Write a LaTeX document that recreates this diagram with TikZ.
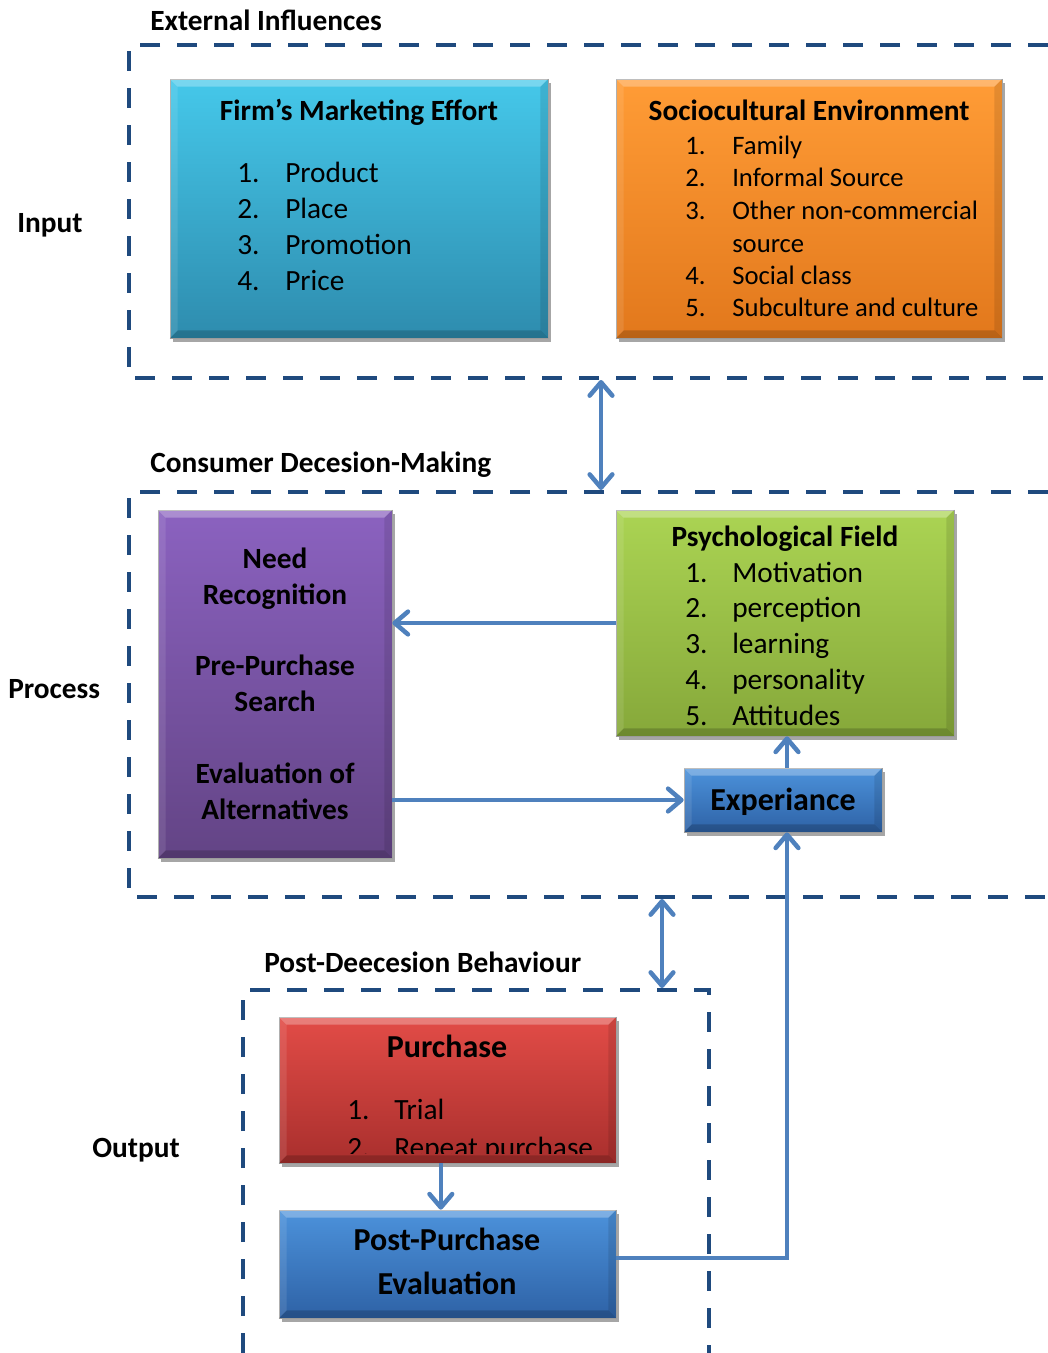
\documentclass[tikz,border=0pt]{standalone}
\usepackage{fontspec}
\setmainfont{Carlito}
\usetikzlibrary{arrows.meta,shadows,fit}
\definecolor{frameblue}{HTML}{1F4A7E}
\definecolor{arrowblue}{HTML}{4F81BD}
\definecolor{cyanT}{HTML}{45C8EA}
\definecolor{cyanB}{HTML}{2E8CAE}
\definecolor{orangeT}{HTML}{FF9C36}
\definecolor{orangeB}{HTML}{E2781C}
\definecolor{greenT}{HTML}{ABD453}
\definecolor{greenB}{HTML}{86A83A}
\definecolor{purpleT}{HTML}{8B62C0}
\definecolor{purpleB}{HTML}{634485}
\definecolor{redT}{HTML}{E24C47}
\definecolor{redB}{HTML}{A92F2D}
\definecolor{blueT}{HTML}{4C92DB}
\definecolor{blueB}{HTML}{2E62A6}
\newcommand\fs[1]{\fontsize{#1}{1.2\dimexpr#1pt\relax}\selectfont}
\newcommand\bvl[1]{%
  \fill[white,opacity=.28] (#1.north west) -- (#1.north east) -- ([shift={(-8,8)}]#1.north east) -- ([shift={(8,8)}]#1.north west) -- cycle;
  \fill[black,opacity=.18] (#1.south west) -- (#1.south east) -- ([shift={(-8,-8)}]#1.south east) -- ([shift={(8,-8)}]#1.south west) -- cycle;
  \fill[black,opacity=.10] (#1.north east) -- (#1.south east) -- ([shift={(-8,-8)}]#1.south east) -- ([shift={(-8,8)}]#1.north east) -- cycle;
  \fill[white,opacity=.10] (#1.north west) -- (#1.south west) -- ([shift={(8,-8)}]#1.south west) -- ([shift={(8,8)}]#1.north west) -- cycle;}
\tikzset{
  bbox/.style={rectangle, inner sep=0pt, draw=black!35, line width=0.5pt,
    drop shadow={shadow xshift=2pt, shadow yshift=-3pt, opacity=0.35, fill=black}},
  frame/.style={draw=frameblue, line width=3.4pt, dash pattern=on 15pt off 12.75pt},
  conn/.style={draw=arrowblue, line width=3.4pt, -{Straight Barb[length=10pt,width=17pt,round]}},
  dconn/.style={draw=arrowblue, line width=3.4pt, {Straight Barb[length=10pt,width=17pt,round]}-{Straight Barb[length=10pt,width=17pt,round]}},
  lbl/.style={inner sep=0pt, anchor=base west, font=\bfseries\fs{22}},
  ttl/.style={inner sep=0pt, anchor=base, font=\bfseries\fs{22}},
  big/.style={inner sep=0pt, anchor=base, font=\bfseries\fs{24}},
  itm/.style={inner sep=0pt, anchor=base west, font=\fs{22}},
  itms/.style={inner sep=0pt, anchor=base west, font=\fs{20}},
}
\begin{document}
\begin{tikzpicture}[x=0.75pt,y=-0.75pt]
\useasboundingbox (0,0) rectangle (1048,1353);

% frames
\draw[frame] (1048,45) -- (129,45) -- (129,378) -- (1048,378);
\draw[frame] (1048,492) -- (129,492) -- (129,897) -- (1048,897);
\draw[frame] (243,1353) -- (243,990) -- (709,990) -- (709,1353);
\coordinate (f1b) at (601,380);
\coordinate (f2t) at (601,490);
\coordinate (f2b) at (662,899);
\coordinate (f3t) at (662,988);

% labels
\node[lbl] (lExt) at (150,30) {External Influences};
\node[lbl] (lCon) at (150,472) {Consumer Decesion-Making};
\node[lbl] (lPost) at (264,972) {Post-Deecesion Behaviour};
\node[lbl] (lIn) at (17,232) {Input};
\node[lbl] (lPr) at (8,698) {Process};
\node[lbl] (lOut) at (92,1157) {Output};

% boxes
\node[bbox, fit={(170,79) (548,338)}, top color=cyanT, bottom color=cyanB] (firm) {};
\node[bbox, fit={(616,79) (1002,338)}, top color=orangeT, bottom color=orangeB] (soc) {};
\node[bbox, fit={(158,510) (392,858)}, top color=purpleT, bottom color=purpleB] (dec) {};
\node[bbox, fit={(616,510) (954,736)}, top color=greenT, bottom color=greenB] (psy) {};
\node[bbox, fit={(684,768) (882,832)}, top color=blueT, bottom color=blueB] (exp) {};
\node[bbox, fit={(279,1017) (616,1163)}, top color=redT, bottom color=redB] (pur) {};
\node[bbox, fit={(279,1210) (616,1318)}, top color=blueT, bottom color=blueB] (ppe) {};
\bvl{firm}\bvl{soc}\bvl{dec}\bvl{psy}\bvl{exp}\bvl{pur}\bvl{ppe}

% firm text
\node[ttl] (firmT) at (359,120) {Firm’s Marketing Effort};
\foreach \t [count=\i] in {Product,Place,Promotion,Price}{
  \node[itm] (firmN\i) at (237,{182.5+36*(\i-1)}) {\i.};
  \node[itm] (firmI\i) at (285,{182.5+36*(\i-1)}) {\t};
}
% sociocultural text
\node[ttl] (socT) at (809,120) {Sociocultural Environment};
\node[itms] (socN1) at (685,154) {1.};
\node[itms] (socI1) at (732,154) {Family};
\node[itms] (socN2) at (685,186) {2.};
\node[itms] (socI2) at (732,186) {Informal Source};
\node[itms] (socN3) at (685,219) {3.};
\node[itms] (socI3) at (732,219) {Other non-commercial};
\node[itms] (socI3b) at (732,252) {source};
\node[itms] (socN4) at (685,284) {4.};
\node[itms] (socI4) at (732,284) {Social class};
\node[itms] (socN5) at (685,316) {5.};
\node[itms] (socI5) at (732,316) {Subculture and culture};

% decision text
\node[ttl] (d1) at (275,568) {Need};
\node[ttl] (d2) at (275,604) {Recognition};
\node[ttl] (d3) at (275,675) {Pre-Purchase};
\node[ttl] (d4) at (275,711) {Search};
\node[ttl] (d5) at (275,783) {Evaluation of};
\node[ttl] (d6) at (275,819) {Alternatives};

% psychological text
\node[ttl] (psyT) at (785,546) {Psychological Field};
\foreach \t [count=\i] in {Motivation,perception,learning,personality,Attitudes}{
  \node[itm] (psyN\i) at (685,{582+35.8*(\i-1)}) {\i.};
  \node[itm] (psyI\i) at (732,{582+35.8*(\i-1)}) {\t};
}

% experience
\node[big] (expT) at (783,810) {Experiance};

% purchase
\node[big] (purT) at (447,1057) {Purchase};
\node[itm] (purN1) at (347,1119) {1.};
\node[itm] (purI1) at (394,1119) {Trial};
\begin{scope}
\clip (279,1017) rectangle (616,1153);
\node[itm] (purN2) at (347,1157) {2.};
\node[itm] (purI2) at (394,1157) {Repeat purchase};
\end{scope}

% post purchase
\node[big] (ppT1) at (447,1250) {Post-Purchase};
\node[big] (ppT2) at (447,1294) {Evaluation};

% connectors
\draw[dconn] (f1b) -- (f2t);
\draw[dconn] (f2b) -- (f3t);
\draw[conn] (psy.west) -- (dec.east |- psy.west);
\draw[conn] (dec.east |- exp.west) -- (exp.west);
\draw[conn] ([xshift=3pt]exp.north) -- ([xshift=3pt]exp.north |- psy.south);
\draw[conn] ([yshift=4.5pt]ppe.east) -| ([xshift=3pt]exp.south);
\draw[conn] ([xshift=-5pt]pur.south) -- ([xshift=-5pt]ppe.north);
\end{tikzpicture}
\end{document}
